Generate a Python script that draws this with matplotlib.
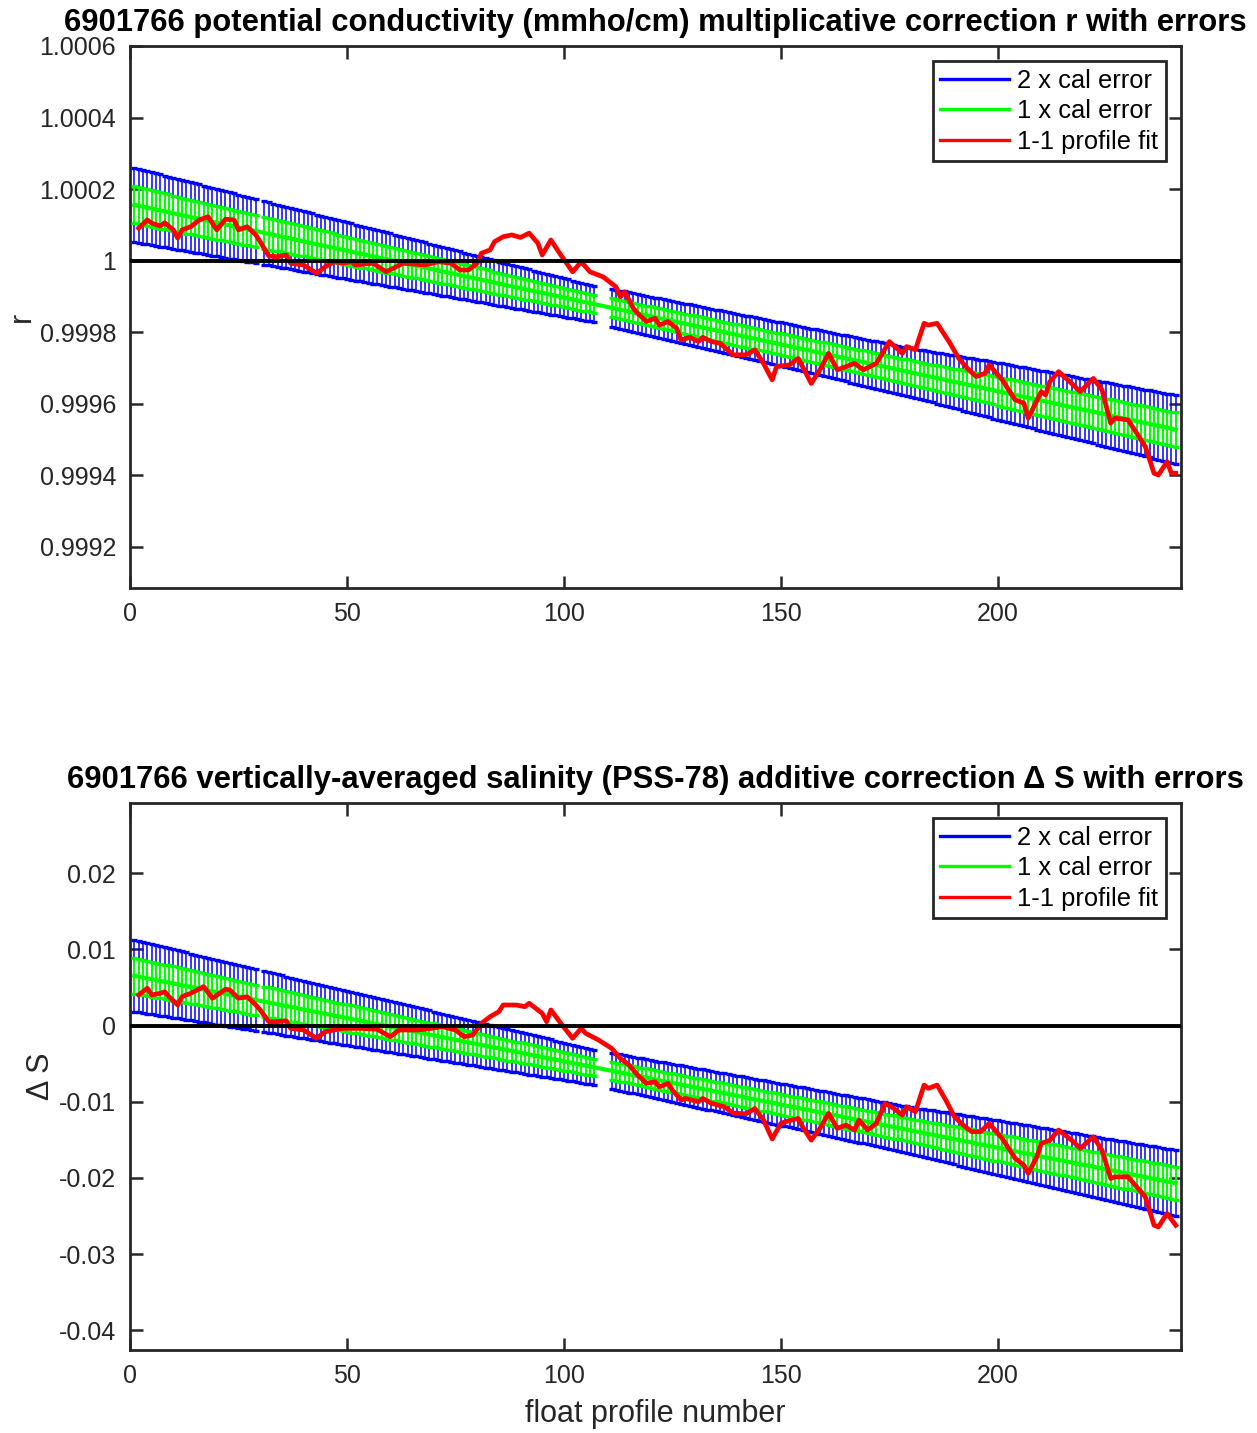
import numpy as np
import matplotlib
matplotlib.use('Agg')
import matplotlib.pyplot as plt
from matplotlib.lines import Line2D

plt.rcParams['font.family'] = ['Liberation Sans', 'DejaVu Sans']

FLOAT = '6901766'

# profiles that carry a calibration (30 and 108-110 have none)
cal_profiles = np.array(list(range(1, 30)) + list(range(31, 108)) + list(range(111, 242)))

# linear calibration fit, read at its two ends
fit_ends_profile = [1, 241]
r_fit_ends = [1.000156, 0.999528]
ds_fit_ends = [0.00653, -0.02070]

# 2 x cal error half-width, read at a few profiles
err_knots_profile = [1, 30, 55, 107, 111, 154, 181, 200, 241]
r_err2_knots = [1.04e-4, 0.89e-4, 0.77e-4, 0.50e-4, 0.53e-4, 0.62e-4, 0.68e-4, 0.80e-4, 0.96e-4]
ds_err2_knots = [4.71e-3, 4.00e-3, 3.47e-3, 2.30e-3, 2.35e-3, 2.80e-3, 3.08e-3, 3.60e-3, 4.34e-3]

# 1-1 profile fit (red)
r_prof = [2, 4, 5, 7, 8, 10, 11, 12, 14, 16, 18, 20, 22, 24, 25, 27, 29, 30, 32, 34,
          36, 37, 40, 43, 45, 47, 49, 51, 52, 56, 59, 63, 68, 71, 74, 76, 78, 80, 81, 83,
          84, 86, 88, 90, 92, 94, 95, 97, 99, 102, 104, 106, 109, 112, 113, 114, 116, 117, 119, 121,
          122, 124, 126, 127, 129, 131, 132, 134, 136, 139, 142, 144, 146, 148, 149, 152, 154, 157, 159, 161,
          163, 165, 167, 169, 172, 175, 178, 179, 181, 183, 184, 186, 189, 191, 193, 195, 197, 198, 201, 204,
          206, 207, 210, 211, 212, 214, 217, 219, 222, 224, 226, 227, 230, 232, 234, 236, 237, 239, 240, 241]
r_single = [1.000091, 1.000114, 1.000105, 1.000097, 1.000106, 1.000086, 1.000063, 1.000086, 1.000095, 1.000114,
            1.000123, 1.000086, 1.000116, 1.000114, 1.000086, 1.000095, 1.000072, 1.000053, 1.000013, 1.000011,
            1.000016, 0.999993, 0.999988, 0.999965, 0.999983, 0.999997, 0.999993, 0.999997, 0.999988, 0.999993,
            0.999969, 0.999993, 0.999988, 0.999997, 0.999993, 0.999974, 0.999974, 0.999993, 1.000021, 1.000030,
            1.000053, 1.000067, 1.000072, 1.000065, 1.000077, 1.000049, 1.000016, 1.000058, 1.000021, 0.999969,
            0.999997, 0.999969, 0.999955, 0.999927, 0.999899, 0.999913, 0.999867, 0.999853, 0.999830, 0.999839,
            0.999820, 0.999830, 0.999811, 0.999778, 0.999786, 0.999774, 0.999786, 0.999774, 0.999769, 0.999737,
            0.999737, 0.999751, 0.999713, 0.999667, 0.999704, 0.999709, 0.999727, 0.999657, 0.999695, 0.999741,
            0.999695, 0.999704, 0.999713, 0.999695, 0.999713, 0.999774, 0.999741, 0.999760, 0.999751, 0.999825,
            0.999820, 0.999825, 0.999769, 0.999727, 0.999699, 0.999676, 0.999685, 0.999709, 0.999667, 0.999611,
            0.999602, 0.999560, 0.999634, 0.999625, 0.999662, 0.999690, 0.999657, 0.999634, 0.999671, 0.999639,
            0.999546, 0.999560, 0.999555, 0.999518, 0.999480, 0.999406, 0.999401, 0.999438, 0.999406, 0.999406]

ds_prof = [2, 4, 5, 7, 8, 9, 11, 12, 14, 17, 19, 22, 23, 25, 27, 29, 30, 32, 34, 36,
           37, 40, 43, 45, 49, 53, 57, 60, 62, 66, 68, 72, 75, 77, 79, 81, 83, 85, 86, 89,
           91, 92, 95, 96, 97, 99, 102, 104, 105, 108, 111, 113, 115, 117, 119, 121, 122, 124, 125, 127,
           128, 131, 132, 134, 137, 139, 142, 144, 146, 148, 150, 151, 154, 155, 157, 159, 161, 163, 165, 167,
           168, 170, 172, 174, 176, 178, 179, 181, 183, 184, 186, 188, 190, 192, 194, 196, 198, 201, 203, 204,
           206, 207, 209, 210, 212, 214, 216, 217, 219, 222, 224, 226, 227, 230, 232, 234, 236, 237, 239, 241]
ds_single = [0.00401, 0.00489, 0.00401, 0.00423, 0.00444, 0.00378, 0.00269, 0.00378, 0.00423, 0.00510,
             0.00357, 0.00476, 0.00466, 0.00357, 0.00378, 0.00269, 0.00204, 0.00050, 0.00050, 0.00063,
             -0.00037, -0.00059, -0.00168, -0.00081, -0.00037, -0.00037, -0.00050, -0.00147, -0.00059, -0.00059,
             -0.00050, -0.00016, -0.00059, -0.00147, -0.00125, 0.00029, 0.00116, 0.00181, 0.00269, 0.00269,
             0.00247, 0.00292, 0.00160, 0.00050, 0.00204, 0.00050, -0.00168, -0.00037, -0.00102, -0.00191,
             -0.00300, -0.00431, -0.00519, -0.00650, -0.00759, -0.00739, -0.00805, -0.00760, -0.00848, -0.00979,
             -0.00957, -0.01001, -0.00957, -0.01022, -0.01067, -0.01150, -0.01160, -0.01090, -0.01240, -0.01490,
             -0.01285, -0.01264, -0.01219, -0.01330, -0.01505, -0.01351, -0.01154, -0.01351, -0.01307, -0.01373,
             -0.01242, -0.01373, -0.01285, -0.01022, -0.01088, -0.01176, -0.01067, -0.01133, -0.00782, -0.00825,
             -0.00782, -0.00979, -0.01198, -0.01307, -0.01395, -0.01395, -0.01285, -0.01482, -0.01658, -0.01745,
             -0.01833, -0.01942, -0.01724, -0.01548, -0.01505, -0.01373, -0.01461, -0.01505, -0.01614, -0.01461,
             -0.01636, -0.02008, -0.01987, -0.01987, -0.02118, -0.02250, -0.02622, -0.02644, -0.02468, -0.02622]

r_ticks = [0.9992, 0.9994, 0.9996, 0.9998, 1.0, 1.0002, 1.0004, 1.0006]
r_tick_labels = ['0.9992', '0.9994', '0.9996', '0.9998', '1', '1.0002', '1.0004', '1.0006']
ds_ticks = [-0.04, -0.03, -0.02, -0.01, 0.0, 0.01, 0.02]
ds_tick_labels = ['-0.04', '-0.03', '-0.02', '-0.01', '0', '0.01', '0.02']
x_ticks = [0, 50, 100, 150, 200]

AX_COL = '#262626'
GREEN = '#00ff00'


def draw_panel(ax, fit_ends, err_knots, prof, single, ref, ylim, yticks, yticklabels, ylabel, title):
    fit = np.interp(cal_profiles, fit_ends_profile, fit_ends)
    err2 = np.interp(cal_profiles, err_knots_profile, err_knots)
    ax.errorbar(cal_profiles, fit, yerr=err2, color='b', ecolor='b', lw=1.5,
                elinewidth=1.1, capsize=2.4, capthick=2.4, zorder=2)
    ax.errorbar(cal_profiles, fit, yerr=err2 / 2, color=GREEN, ecolor=GREEN, lw=3,
                elinewidth=1.5, capsize=2.4, capthick=2.4, zorder=3)
    ax.plot(prof, single, color='r', lw=3.4, zorder=4)
    ax.axhline(ref, color='k', lw=2.8, zorder=5)

    ax.set_xlim(0, 242.2)
    ax.set_ylim(*ylim)
    ax.set_xticks(x_ticks)
    ax.set_yticks(yticks)
    ax.set_yticklabels(yticklabels)
    ax.tick_params(direction='in', length=9, width=1.8, top=True, right=True,
                   labelsize=18, pad=10, colors=AX_COL)
    for s in ax.spines.values():
        s.set_linewidth(2.0)
        s.set_color(AX_COL)
    ax.set_ylabel(ylabel, fontsize=22, color=AX_COL, labelpad=2)
    ax.set_title(title, fontsize=22.3, fontweight='bold', pad=11)

    handles = [Line2D([], [], color='b', lw=2.4),
               Line2D([], [], color=GREEN, lw=2.4),
               Line2D([], [], color='r', lw=2.4)]
    leg = ax.legend(handles, ['2 x cal error', '1 x cal error', '1-1 profile fit'],
                    loc='upper right', fontsize=18.4, handlelength=2.7, borderaxespad=0.6,
                    fancybox=False, framealpha=1, edgecolor=AX_COL, borderpad=0.3,
                    labelspacing=0.25, handletextpad=0.3)
    leg.get_frame().set_linewidth(2.0)


fig = plt.figure(figsize=(12.57, 14.33), dpi=100)
ax1 = fig.add_axes([0.1034, 0.5897, 0.8361, 0.3782])
ax2 = fig.add_axes([0.1034, 0.0579, 0.8361, 0.3817])

draw_panel(ax1, r_fit_ends, r_err2_knots, r_prof, r_single, 1.0,
           (0.9990854, 1.0006), r_ticks, r_tick_labels, 'r',
           FLOAT + ' potential conductivity (mmho/cm) multiplicative correction r with errors')
draw_panel(ax2, ds_fit_ends, ds_err2_knots, ds_prof, ds_single, 0.0,
           (-0.0426, 0.0292), ds_ticks, ds_tick_labels, '\u0394 S',
           FLOAT + ' vertically-averaged salinity (PSS-78) additive correction \u0394 S with errors')
ax2.set_xlabel('float profile number', fontsize=22, color=AX_COL, labelpad=8)

fig.savefig('out.png', dpi=100)
